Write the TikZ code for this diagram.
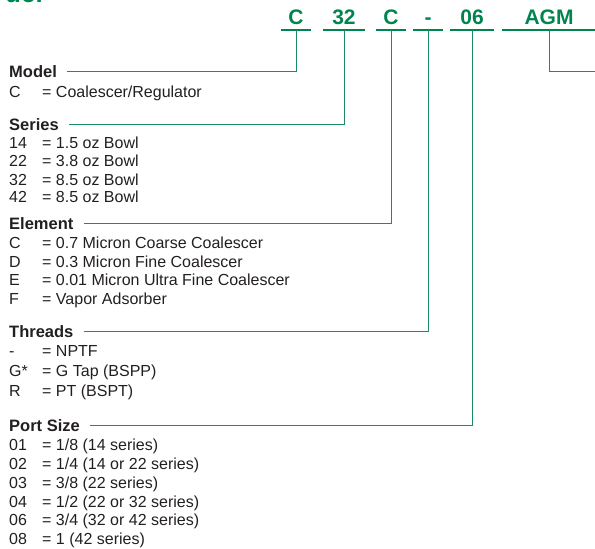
\documentclass[tikz,border=0pt]{standalone}
\usepackage{fontspec}
\setmainfont{Liberation Sans}
\usepackage{tikz}
\usetikzlibrary{positioning,calc}
\definecolor{brand}{HTML}{00854F}
\definecolor{leadgreen}{HTML}{1E8C62}
\definecolor{ink}{HTML}{231F20}
\newcommand{\opt}[2]{\makebox[33pt][l]{#1}= #2}
\tikzset{
  code/.style={anchor=south, font=\fontsize{21}{24}\selectfont\bfseries, text=brand,
    inner xsep=0pt, inner ysep=5pt, text height=15pt, text depth=0pt},
  hdr/.style={anchor=base west, font=\fontsize{16.5}{19}\selectfont\bfseries, text=ink,
    inner sep=0pt, text height=12pt, text depth=0pt},
  row/.style={anchor=base west, font=\fontsize{16}{18}\selectfont, text=ink, inner sep=0pt},
  uline/.style={brand, line width=1.3pt},
  lead/.style={leadgreen, line width=1pt, shorten <=10pt}
}
\begin{document}
\begin{tikzpicture}[x=1pt,y=-1pt]
    \useasboundingbox (0,0) rectangle (595,549);
    % clipped title
    \node[anchor=base west, inner sep=0pt, font=\fontsize{26}{30}\selectfont\bfseries, text=brand] (title) at (5,2.5) {der};
    % order code
    \node[code, minimum width=30pt] (cModel) at (296,30) {C};
    \node[code, minimum width=42pt] (cSeries) at (344,30) {32};
    \node[code, minimum width=29pt] (cElem) at (391,30) {C};
    \node[code, minimum width=29pt] (cThread) at (428,30) {-};
    \node[code, minimum width=43pt] (cPort) at (472,30) {06};
    \node[code, minimum width=93pt] (cAGM) at (549,30) {AGM};
    \foreach \c in {cModel,cSeries,cElem,cThread,cPort,cAGM}
      \draw[uline] (\c.south west) -- (\c.south east);
    % model
    \node[hdr] (model) at (9,77) {Model};
    \node[row] (m1) at (9,97) {\opt{C}{Coalescer/Regulator}};
    % series
    \node[hdr] (series) at (9,130) {Series};
    \node[row] (s1) at (9,148.5) {\opt{14}{1.5 oz Bowl}};
    \node[row] (s2) at (9,166.5) {\opt{22}{3.8 oz Bowl}};
    \node[row] (s3) at (9,185) {\opt{32}{8.5 oz Bowl}};
    \node[row] (s4) at (9,202.5) {\opt{42}{8.5 oz Bowl}};
    % element
    \node[hdr] (element) at (9,229.5) {Element};
    \node[row] (e1) at (9,248.5) {\opt{C}{0.7 Micron Coarse Coalescer}};
    \node[row] (e2) at (9,267) {\opt{D}{0.3 Micron Fine Coalescer}};
    \node[row] (e3) at (9,285.5) {\opt{E}{0.01 Micron Ultra Fine Coalescer}};
    \node[row] (e4) at (9,304.5) {\opt{F}{Vapor Adsorber}};
    % threads
    \node[hdr] (threads) at (9,337.5) {Threads};
    \node[row] (t1) at (9,356.5) {\opt{-}{NPTF}};
    \node[row] (t2) at (9,376.5) {\opt{G*}{G Tap (BSPP)}};
    \node[row] (t3) at (9,396) {\opt{R}{PT (BSPT)}};
    % port size
    \node[hdr] (port) at (9,431.5) {Port Size};
    \node[row] (p1) at (9,450.5) {\opt{01}{1/8 (14 series)}};
    \node[row] (p2) at (9,469.5) {\opt{02}{1/4 (14 or 22 series)}};
    \node[row] (p3) at (9,488.5) {\opt{03}{3/8 (22 series)}};
    \node[row] (p4) at (9,507) {\opt{04}{1/2 (22 or 32 series)}};
    \node[row] (p5) at (9,525.5) {\opt{06}{3/4 (32 or 42 series)}};
    \node[row] (p6) at (9,544) {\opt{08}{1 (42 series)}};
    % leaders
    \draw[lead] (model.east) -| (cModel.south);
    \draw[lead] (series.east) -| (cSeries.south);
    \draw[lead] (element.east) -| (cElem.south);
    \draw[lead] (threads.east) -| (cThread.south);
    \draw[lead] (port.east) -| (cPort.south);
    \coordinate (agmEnd) at (595,71);
    \draw[lead, shorten <=0pt] (cAGM.south) |- (agmEnd);
\end{tikzpicture}
\end{document}
